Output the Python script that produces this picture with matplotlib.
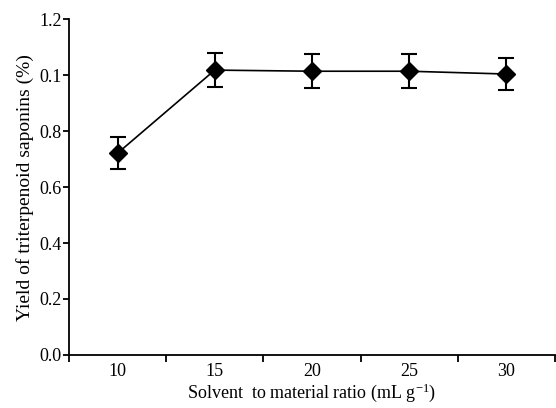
import numpy as np
import matplotlib.pyplot as plt

# Datos
ratio = [10, 15, 20, 25, 30]
rendimiento = [0.721, 1.018, 1.014, 1.014, 1.004]
error = [0.058, 0.061, 0.060, 0.061, 0.057]
etiquetas_y = ['0.0', '0.2', '0.4', '0.6', '0.8', '0.1', '1.2']

plt.rcParams['font.family'] = 'Liberation Serif'
plt.rcParams['mathtext.fontset'] = 'custom'
plt.rcParams['mathtext.rm'] = 'Liberation Serif'
plt.rcParams['mathtext.default'] = 'regular'

fig = plt.figure(figsize=(5.56, 4.08), dpi=100)
ax = fig.add_axes([0.124, 0.130, 0.874, 0.823])

ax.errorbar(ratio, rendimiento, yerr=error, color='black', marker='D',
            markersize=9, linewidth=1.2, elinewidth=1.5, capsize=6, capthick=1.5)

ax.set_xlim(7.5, 32.5)
ax.set_ylim(0, 1.2)
ax.set_xticks(ratio)
ax.set_xticks(np.arange(7.5, 33, 5), minor=True)
ax.tick_params(axis='x', which='major', length=0, pad=6, labelsize=13)
ax.tick_params(axis='x', which='minor', length=5, width=1.3, direction='out')
ax.set_yticks(np.arange(0, 1.21, 0.2))
ax.set_yticklabels(etiquetas_y)
ax.tick_params(axis='y', length=4, width=1.3, labelsize=13, pad=1)

for s in ['top', 'right']:
    ax.spines[s].set_visible(False)
for s in ['left', 'bottom']:
    ax.spines[s].set_linewidth(1.3)

ax.set_xlabel('Solvent  to material ratio (mL g$^{-1}$)', fontsize=13, labelpad=1)
ax.set_ylabel('Yield of triterpenoid saponins (%)', fontsize=14, labelpad=4)

plt.savefig('out.png', dpi=100)
